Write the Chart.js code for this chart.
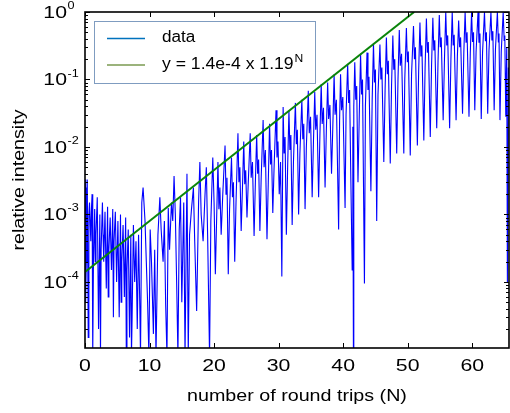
<!DOCTYPE html>
<html>
<head>
<meta charset="utf-8">
<script src="https://cdn.jsdelivr.net/npm/chart.js@4"></script>
<style>
  html, body { margin: 0; padding: 0; background: #fff; }
  #wrap { width: 510px; height: 413px; }
</style>
</head>
<body>
<div id="wrap"><canvas id="chart" width="510" height="413"></canvas></div>
<script>
const dataStart = [
  [0.0, 3e-3], [0.05, 8e-4], [0.1, 3.3e-3], [0.15, 5e-5], [0.2, 2e-4], [0.25, 2.5e-3],
  [0.3, 4e-4], [0.35, 3.3e-3], [0.5, 1.5e-5], [0.6, 1e-3], [0.7, 1.5e-3], [0.9, 4e-4],
  [1.0, 1.2e-3], [1.1, 2e-3], [1.2, 8e-6], [1.3, 1.5e-4], [1.5, 1.2e-3], [1.6, 2e-4],
  [1.7, 5e-4], [1.9, 1.8e-3], [2.1, 2e-5], [2.3, 1e-3], [2.4, 8e-6], [2.5, 3e-4],
  [2.7, 1.5e-3], [2.8, 5e-4], [2.9, 2e-4], [3.1, 1.1e-3], [3.3, 8e-5], [3.5, 1.3e-3],
  [3.6, 6e-5], [3.7, 3e-4], [3.9, 9e-4], [4.1, 1.5e-4], [4.3, 1.2e-3], [4.4, 3e-5],
  [4.5, 4e-4], [4.7, 1.1e-3], [4.9, 1e-4], [5.1, 8e-4], [5.3, 3e-5], [5.5, 1e-3],
  [5.6, 5e-5], [5.7, 2e-4], [5.9, 7e-4], [6.1, 6e-5], [6.3, 9e-4], [6.4, 8e-6],
  [6.5, 1.5e-4], [6.7, 6e-4], [6.9, 1.5e-5], [7.1, 5e-4], [7.2, 8e-6], [7.3, 3e-5],
  [7.5, 7e-4], [7.7, 1e-4], [7.9, 4e-4], [8.1, 2e-5], [8.3, 5e-4], [8.5, 4e-5],
  [8.6, 8e-6], [8.8, 1.5e-3], [9.0, 2.5e-3], [9.3, 8e-4], [9.5, 2e-4], [9.7, 5e-5],
  [9.9, 8e-6], [10.1, 6e-4], [10.3, 2e-4], [10.6, 1.7e-5], [10.8, 3e-4], [11.0, 8e-6],
  [11.3, 5e-4], [11.6, 1.8e-3], [11.8, 6e-4], [12.1, 2e-4], [12.3, 8e-4], [12.5, 4.6e-5],
  [12.7, 8e-6], [12.9, 1.25e-3], [13.1, 3e-4], [13.4, 1.5e-3], [13.6, 8e-4], [13.8, 3.7e-3],
  [14.0, 1e-3], [14.2, 1e-4], [14.4, 8e-6], [14.6, 6e-4], [14.8, 1.8e-3], [15.0, 5e-5],
  [15.3, 1.5e-3], [15.5, 8e-6], [15.8, 4e-3], [16.0, 8e-6], [16.2, 5e-4], [16.5, 1.2e-3],
  [16.8, 2.5e-3], [17.0, 4e-4], [17.3, 3.7e-5], [17.6, 1.5e-3], [17.8, 6e-3], [18.0, 1e-3],
  [18.3, 4e-4], [18.6, 2e-3], [18.8, 5e-3], [19.0, 5e-4], [19.3, 8e-6], [19.5, 8e-4],
  [19.8, 7e-3], [20.0, 1.5e-3], [20.2, 1.3e-4]
];
const dataMiddle = [
  [20.6, 6e-3], [20.75, 1.2e-3], [20.9, 2.5e-3], [21.1, 5e-4], [21.35, 2e-3],
  [21.7, 1.05e-2], [21.85, 2e-3], [22.0, 3.5e-3], [22.2, 1.3e-4], [22.4, 1.2e-3],
  [22.7, 7e-3], [22.85, 1.8e-3], [23.0, 3e-3], [23.2, 2e-4], [23.4, 1.5e-3],
  [23.7, 1.6e-2], [23.85, 3e-3], [24.0, 5e-3], [24.2, 5.7e-4], [24.4, 2.5e-3],
  [24.6, 1.2e-2], [24.75, 2.8e-3], [24.9, 4.5e-3], [25.1, 9e-4], [25.3, 3e-3],
  [25.6, 1.6e-2], [25.75, 3.5e-3], [25.95, 6e-3], [26.2, 4.8e-4], [26.4, 3e-3],
  [26.6, 1.5e-2], [26.75, 4e-3], [26.9, 6.5e-3], [27.1, 5.7e-4], [27.3, 3.5e-3],
  [27.6, 2.5e-2], [27.75, 5e-3], [27.95, 9e-3], [28.2, 4.3e-4], [28.4, 3e-3],
  [28.6, 2.2e-2], [28.75, 5.5e-3], [28.9, 9e-3], [29.1, 1.05e-3], [29.3, 5e-3],
  [29.6, 3.5e-2], [29.75, 7e-3], [29.9, 1.2e-2], [30.1, 2e-3], [30.3, 6e-3], [30.5, 1.2e-4],
  [30.7, 3.9e-2], [30.85, 8e-3], [31.0, 1.4e-2], [31.2, 5e-4], [31.4, 5e-3],
  [31.6, 3.5e-2], [31.75, 9e-3], [31.9, 1.5e-2], [32.1, 7e-4], [32.3, 6e-3],
  [32.6, 4.5e-2], [32.75, 1.1e-2], [32.9, 1.8e-2], [33.1, 1e-3], [33.3, 8e-3],
  [33.6, 5e-2], [33.75, 1.3e-2], [33.9, 2.2e-2], [34.1, 1.2e-3], [34.3, 1e-2],
  [34.6, 6.8e-2], [34.75, 1.6e-2], [34.95, 2.8e-2], [35.2, 1.8e-3], [35.4, 1.2e-2],
  [35.6, 6.5e-2], [35.75, 1.8e-2], [35.95, 3e-2], [36.2, 1.8e-3], [36.4, 1.5e-2],
  [36.6, 8.5e-2], [36.75, 2.2e-2], [36.95, 3.8e-2], [37.2, 2.5e-3], [37.4, 1.8e-2],
  [37.6, 9e-2], [37.75, 2.6e-2], [37.95, 4.2e-2], [38.2, 4e-3], [38.4, 2e-2],
  [38.6, 0.12], [38.75, 3e-2], [38.95, 5e-2], [39.3, 6e-4], [39.45, 2.5e-2],
  [39.6, 0.12], [39.75, 3.5e-2], [39.95, 5.5e-2], [40.3, 1.25e-3], [40.45, 3e-2],
  [40.7, 0.17], [40.85, 4.5e-2], [41.0, 7e-2], [41.2, 3e-3], [41.4, 1.5e-4], [41.5, 2e-2],
  [41.6, 5e-6], [41.65, 4e-2],
  [41.8, 0.18], [41.95, 5e-2], [42.1, 8e-2], [42.3, 3e-3], [42.5, 3e-2],
  [42.7, 0.24], [42.85, 6e-2], [43.0, 0.1], [43.3, 9.5e-5], [43.45, 4e-2],
  [43.7, 0.25], [43.85, 7e-2], [44.0, 0.11], [44.3, 2.2e-3], [44.5, 5e-2],
  [44.7, 0.34], [44.85, 9e-2], [45.0, 0.14], [45.2, 8e-4], [45.4, 6e-2]
];
const dataEnd = [
  [45.7, 0.33], [45.85, 0.1], [46.0, 0.15], [46.3, 6e-3], [46.5, 7e-2],
  [46.7, 0.42], [46.85, 0.12], [47.0, 0.19], [47.3, 5.7e-3], [47.5, 8e-2],
  [47.7, 0.45], [47.85, 0.14], [48.0, 0.2], [48.3, 8e-3], [48.5, 0.1],
  [48.7, 0.54], [48.85, 0.16], [49.05, 0.24], [49.4, 8e-3], [49.55, 0.1],
  [49.8, 0.58], [49.95, 0.18], [50.1, 0.26], [50.4, 7.5e-3], [50.6, 0.12],
  [50.9, 0.62], [51.05, 0.2], [51.2, 0.3], [51.5, 1.05e-2], [51.7, 0.13],
  [51.9, 0.7], [52.05, 0.22], [52.2, 0.32], [52.5, 1.25e-2], [52.7, 0.15],
  [52.9, 0.8], [53.05, 0.25], [53.2, 0.36], [53.5, 1.4e-2], [53.7, 0.16],
  [53.9, 0.82], [54.05, 0.27], [54.2, 0.38], [54.5, 1.9e-2], [54.7, 0.18],
  [54.9, 0.9], [55.05, 0.3], [55.2, 0.42], [55.5, 2.5e-2], [55.7, 0.2],
  [55.9, 1.0], [56.05, 0.32], [56.2, 0.45], [56.5, 1.9e-2], [56.7, 0.2],
  [56.9, 1.0], [57.05, 0.32], [57.2, 0.46], [57.5, 2.5e-2], [57.7, 0.22],
  [57.9, 0.75], [58.05, 0.3], [58.2, 0.42], [58.5, 3.1e-2], [58.7, 0.25],
  [58.9, 1.0], [59.05, 0.35], [59.2, 0.5], [59.5, 2.8e-2], [59.7, 0.24],
  [59.9, 1.0], [60.05, 0.36], [60.2, 0.5], [60.4, 3.5e-2], [60.6, 0.26],
  [60.9, 1.0], [61.05, 0.35], [61.2, 0.48], [61.4, 2.6e-2], [61.6, 0.25],
  [61.9, 1.0], [62.05, 0.37], [62.2, 0.5], [62.4, 3.1e-2], [62.6, 0.27],
  [62.9, 1.0], [63.05, 0.38], [63.2, 0.52], [63.4, 3.5e-2], [63.6, 0.28],
  [63.9, 1.0], [64.05, 0.36], [64.15, 0.48], [64.3, 2.5e-2], [64.5, 0.26],
  [64.8, 1.0], [64.95, 0.38], [65.05, 0.45], [65.2, 2.8e-2], [65.35, 0.3],
  [65.45, 1e-4], [65.6, 0.15], [65.7, 0.12]
];

// fitted exponential y = 1.4e-4 x 1.19^N, straight on log axis
const fitN = [0, 51];
const fitY = [1.4e-4, 1.0];

// axes
const xTicks = [0, 10, 20, 30, 40, 50, 60];
const yTickExps = [0, -1, -2, -3, -4];
const xMin = 0, xMax = 65.7;
const yMin = 1.05e-5, yMax = 1;

const trace = dataStart.concat(dataMiddle, dataEnd).map(p => ({ x: p[0], y: p[1] }));
const fitLine = fitN.map((n, i) => ({ x: n, y: fitY[i] }));

const FONT = '"Liberation Sans", Arial, sans-serif';

// draw text stretched horizontally (the reference uses a wide Helvetica)
function drawText(ctx, str, x, y, size, sx, align) {
  ctx.save();
  ctx.font = size + 'px ' + FONT;
  ctx.textBaseline = 'middle';
  const w = ctx.measureText(str).width * sx;
  let x0 = x;
  if (align === 'center') x0 = x - w / 2;
  else if (align === 'right') x0 = x - w;
  ctx.translate(x0, y);
  ctx.scale(sx, 1);
  ctx.textAlign = 'left';
  ctx.fillText(str, 0, 0);
  ctx.restore();
  return w;
}

const decorations = {
  id: 'decorations',
  afterDraw(chart) {
    const ctx = chart.ctx;
    const xs = chart.scales.x, ys = chart.scales.y;
    const a = chart.chartArea;
    ctx.save();
    ctx.fillStyle = '#000';
    ctx.strokeStyle = '#000';

    // tick marks
    ctx.lineWidth = 1;
    ctx.beginPath();
    xTicks.forEach(v => {
      const px = Math.round(xs.getPixelForValue(v)) + 0.5;
      ctx.moveTo(px, a.bottom); ctx.lineTo(px, a.bottom - 5);
      ctx.moveTo(px, a.top); ctx.lineTo(px, a.top + 5);
    });
    yTickExps.forEach(e => {
      const py = Math.round(ys.getPixelForValue(Math.pow(10, e))) + 0.5;
      ctx.moveTo(a.left, py); ctx.lineTo(a.left + 5, py);
      ctx.moveTo(a.right, py); ctx.lineTo(a.right - 5, py);
    });
    for (let e = -5; e < 0; e++) {
      for (let m = 2; m <= 9; m++) {
        const v = m * Math.pow(10, e);
        if (v < yMin || v > yMax) continue;
        const py = Math.round(ys.getPixelForValue(v)) + 0.5;
        ctx.moveTo(a.left, py); ctx.lineTo(a.left + 3, py);
        ctx.moveTo(a.right, py); ctx.lineTo(a.right - 3, py);
      }
    }
    ctx.stroke();

    // frame
    ctx.lineWidth = 1.6;
    ctx.strokeRect(a.left, a.top, a.right - a.left, a.bottom - a.top);

    // x tick labels
    xTicks.forEach(v => {
      drawText(ctx, String(v), xs.getPixelForValue(v), a.bottom + 18, 17, 1.25, 'center');
    });

    // y tick labels 10^e
    yTickExps.forEach(e => {
      const py = ys.getPixelForValue(Math.pow(10, e));
      drawText(ctx, '10', 67, py + 1, 17, 1.25, 'right');
      drawText(ctx, e === 0 ? '0' : '-' + (-e), 67.5, py - 6, 11, 1.15, 'left');
    });

    // axis titles
    drawText(ctx, 'number of round trips (N)', (a.left + a.right) / 2, 397, 16, 1.23, 'center');
    ctx.save();
    ctx.translate(20, (a.top + a.bottom) / 2);
    ctx.rotate(-Math.PI / 2);
    drawText(ctx, 'relative intensity', 0, 0, 16, 1.23, 'center');
    ctx.restore();

    // legend
    ctx.fillStyle = '#fff';
    ctx.fillRect(95, 21, 221, 63);
    ctx.strokeStyle = '#7f9cc0';
    ctx.lineWidth = 1;
    ctx.strokeRect(94.5, 21.5, 221, 62);
    ctx.lineWidth = 1.5;
    ctx.strokeStyle = '#0072bd';
    ctx.beginPath(); ctx.moveTo(107, 38.5); ctx.lineTo(145, 38.5); ctx.stroke();
    ctx.strokeStyle = '#7a9a50';
    ctx.beginPath(); ctx.moveTo(107, 65); ctx.lineTo(145, 65); ctx.stroke();
    ctx.fillStyle = '#000';
    drawText(ctx, 'data', 162, 38, 16, 1.07, 'left');
    const w = drawText(ctx, 'y = 1.4e-4 x 1.19', 162, 65, 16, 1.1, 'left');
    drawText(ctx, 'N', 162 + w + 1, 59, 11, 1.1, 'left');
    ctx.restore();
  }
};

new Chart(document.getElementById('chart'), {
  type: 'line',
  data: {
    datasets: [
      {
        label: 'y = 1.4e-4 x 1.19^N',
        data: fitLine,
        borderColor: '#0a850a',
        borderWidth: 2,
        pointRadius: 0,
        order: 0
      },
      {
        label: 'data',
        data: trace,
        borderColor: '#0000ff',
        borderWidth: 1.1,
        pointRadius: 0,
        tension: 0,
        order: 1
      }
    ]
  },
  options: {
    responsive: false,
    animation: false,
    layout: { padding: { left: 85, top: 12, right: 1, bottom: 65 } },
    plugins: { legend: { display: false }, tooltip: { enabled: false } },
    scales: {
      x: { type: 'linear', min: xMin, max: xMax, display: false },
      y: { type: 'logarithmic', min: yMin, max: yMax, display: false }
    }
  },
  plugins: [decorations]
});
</script>
</body>
</html>
